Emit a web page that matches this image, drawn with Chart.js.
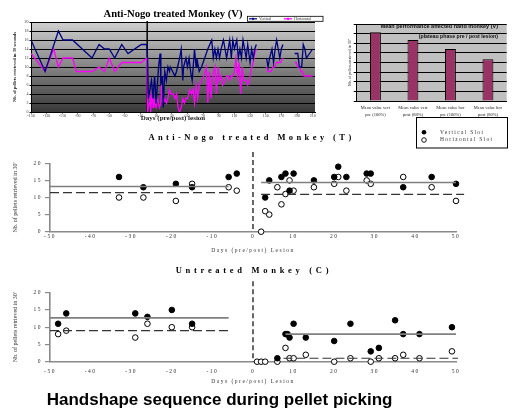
<!DOCTYPE html>
<html><head><meta charset="utf-8">
<script src="https://cdn.jsdelivr.net/npm/chart.js@4.4.1/dist/chart.umd.min.js"></script>
<style>
html,body{margin:0;padding:0;background:#fff;width:516px;height:410px;overflow:hidden;position:relative}
canvas{position:absolute}
.t{position:absolute;white-space:nowrap;font-family:"Liberation Serif","Times New Roman",serif;font-weight:bold;color:#000;text-align:center}
</style></head><body>
<canvas id="c1" width="330" height="125" style="left:0;top:0"></canvas>
<canvas id="c2" width="186" height="125" style="left:330px;top:0"></canvas>
<canvas id="c3" width="516" height="145" style="left:0;top:115px"></canvas>
<canvas id="c4" width="516" height="132" style="left:0;top:258px"></canvas>
<div class="t" style="left:0;top:7px;width:346px;font-size:10.6px;line-height:14px">Anti-Nogo treated Monkey (V)</div>
<div class="t" style="left:0;top:131px;width:503px;font-size:8.5px;line-height:13px;letter-spacing:3.4px">Anti-Nogo treated Monkey (T)</div>
<div class="t" style="left:0;top:263.5px;width:508px;font-size:8.5px;line-height:13px;letter-spacing:3.7px">Untreated Monkey (C)</div>
<div style="position:absolute;left:46.7px;top:390px;font:bold 17px/20px 'Liberation Sans',Arial,sans-serif;color:#000;white-space:nowrap">Handshape sequence during pellet picking</div>
<script>
// ---------- Monkey V (line chart) ----------
const vertDays = [-150,-132,-115,-109,-97,-72,-63,-56,-50,-43,-34,-26,-9,-2,
  -1,0,2,4,6,8,10,13,15,16,18,19,21,23,25,27,28,31,34,36,
  40,42,44,45,48,50,52,54,56,59,61,62,65,68,72,76,81,83,85,87,
  89,91,93,96,98,100,102,104,106,108,110,113,115,117,119,121,125,127,130,132,134,136,138,
  144,
  151,153,155,158,160,162,164,166,168,170,172,
  180,
  187,191,193,196,198,200,202,206,210];
const vertVals = [16,9,18,16,16,12,15,14,14,12,15,13,15,15,
  12,3,5,7,3,8,2,10,13,6,8,1,9,7,10,9,10,9,8,9,
  12,14,7,10,12,10,12,9,7,14,10,12,9,10,12,14,16,12,14,12,
  14,12,14,16,14,12,14,16,12,16,14,16,12,14,12,16,12,15,11,14,12,14,15,
  null,
  12,10,12,14,11,14,16,14,12,14,15,
  null,
  13,13,10,10,15,14,12,13,14];
const horDays = [-150,-132,-121,-115,-109,-97,-92,-72,-63,-56,-50,-43,-34,-9,-2,
  -1,1,2,3,5,6,7,8,10,12,14,16,17,19,21,23,25,27,29,32,
  34,36,38,40,42,44,46,48,50,53,55,57,59,61,63,65,68,71,74,76,
  78,80,82,85,87,89,91,93,95,98,100,102,104,106,108,110,112,114,116,118,120,122,125,127,129,131,134,136,138,
  144,
  151,153,155,157,159,161,164,167,169,172,
  180,
  187,189,191,193,195,197,199,202,206,210];
const horVals = [13,9,14,10,12,12,9,9,10,9,12,9,11,11,12,
  0,2,4,0,5,1,3,2,1,3,1,2,6,2,3,2,3,5,4,4,
  3,4,1,0,1,3,2,3,3,5,4,5,2,6,3,6,7,8,10,2,
  9,3,8,10,4,10,7,8,6,7,8,8,7,8,8,9,12,8,11,4,10,7,7,6,7,9,11,13,14,
  null,
  10,9,9,9,10,10,11,11,11,12,
  null,
  11,11,10,10,9,9,8,8,8,8];
const vTicks = [-150,-130,-110,-90,-70,-50,-30,-10,10,30,50,70,90,110,130,150,170,190,210];
const vLesionDay = -1.5;

// ---------- Monkey V (bar chart) ----------
const barLabels = [['Mean value vert','pre (100%)'],['Mean value vert','post (88%)'],['Mean value hor','pre (100%)'],['Mean value hor','post (80%)']];
const barValues = [14.3, 12.7, 10.8, 8.7];

// ---------- Monkey T ----------
const tVertDays = [-33,-27,-19,-15,-6,-4, 3,4,7,8,9,10,15,20,21,23,28,29,37,44,50];
const tVertVals = [16,13,14,13,16,17, 10,15,16,17,12,17,15,16,19,16,17,17,13,16,14];
const tHorDays  = [-33,-27,-19,-15,-6,-4, 2,3,4,6,7,8,9,10,15,20,21,23,28,29,37,44,50];
const tHorVals  = [10,10,9,14,13,12, 0,6,5,13,8,11,15,12,13,14,16,12,15,14,16,13,9];
const tPreRange = [-50,-6], tPostVRange = [2,50], tPostHRange = [2,52];
const tMeanVert = [13.2, 14.4], tMeanHor = [11.4, 10.9];

// ---------- Monkey C ----------
const cVertDays = [-48,-46,-29,-26,-20,-15, 6,8,8.5,9,10,13,20,24,29,31,35,37,41,49];
const cVertVals = [11,14,14,13,15,11, 1,8,8,7,11,7,6,11,3,4,12,8,8,10];
const cHorDays  = [-48,-46,-29,-26,-20,-15, 1,2,3,6,8,9,10,13,20,24,29,31,35,37,41,49];
const cHorVals  = [8,9,7,11,10,10, 0,0,0,0,4,1,1,2,0,1,0,1,1,2,1,3];
const cPreRange = [-50,-6], cPostVRange = [8,50], cPostHRange = [7.5,50.5];
const cMeanVert = [12.7, 8], cMeanHor = [9, 1];
const lesionTop = 23.3;

const serif = '"Liberation Serif","Times New Roman",serif';
const sans = '"Liberation Sans",Arial,sans-serif';
const pts = (d, v) => d.map((x, i) => ({x: x, y: v[i]}));
const seg = (r, y) => [{x: r[0], y: y}, {x: r[1], y: y}];

// ===== Chart 1 =====
new Chart(document.getElementById('c1'), {
  type: 'line',
  data: {datasets: [
    {label: 'Vertical', data: pts(vertDays, vertVals), borderColor: '#000080', backgroundColor: '#000080', borderWidth: 1.3, pointRadius: 0, tension: 0, spanGaps: false},
    {label: 'Horizontal', data: pts(horDays, horVals), borderColor: '#ff00ff', backgroundColor: '#ff00ff', borderWidth: 1.3, pointRadius: 0, tension: 0, spanGaps: false}
  ]},
  options: {
    responsive: false, animation: false, events: [],
    layout: {padding: {left: 0, right: 15, top: 22, bottom: 0}},
    plugins: {legend: {display: false}, tooltip: {enabled: false}},
    scales: {
      x: {type: 'linear', min: -150, max: 213,
        afterBuildTicks: s => { s.ticks = vTicks.map(v => ({value: v})); },
        afterFit: s => { s.height = 13; },
        grid: {drawOnChartArea: false, tickLength: 1.5, color: '#000'},
        border: {color: '#000', width: 1},
        ticks: {autoSkip: false, maxRotation: 0, padding: 0, color: '#333', font: {size: 4, family: serif}},
        title: {display: true, text: 'Days (pre/post) lesion', color: '#222', font: {size: 7, weight: 'bold', family: serif}, padding: {top: 0, bottom: 2.8}}
      },
      y: {min: 0, max: 20,
        afterFit: s => { s.width = 31; },
        grid: {color: '#000', lineWidth: 1, tickLength: 1.5},
        border: {color: '#000', width: 1},
        ticks: {stepSize: 2, padding: 1, color: '#333', font: {size: 4, family: serif}},
        title: {display: true, text: 'Nb. of pellets retrieved in 30 seconds', color: '#222', font: {size: 4.5, weight: 'bold', family: serif}, padding: {top: 12.3, bottom: 0}}
      }
    }
  },
  plugins: [{
    id: 'vdeco',
    beforeDraw(ch) {
      const a = ch.chartArea, ctx = ch.ctx;
      const g = ctx.createLinearGradient(0, a.top, 0, a.bottom);
      g.addColorStop(0, '#d0d0d0'); g.addColorStop(1, '#383838');
      ctx.save(); ctx.fillStyle = g; ctx.fillRect(a.left, a.top, a.right - a.left, a.bottom - a.top); ctx.restore();
    },
    beforeDatasetsDraw(ch) {
      const a = ch.chartArea, ctx = ch.ctx;
      const x = ch.scales.x.getPixelForValue(vLesionDay);
      ctx.save(); ctx.strokeStyle = '#000'; ctx.lineWidth = 1.5;
      ctx.beginPath(); ctx.moveTo(x, a.top - 1); ctx.lineTo(x, a.bottom); ctx.stroke(); ctx.restore();
    },
    afterDraw(ch) {
      const ctx = ch.ctx;
      ctx.save();
      ctx.fillStyle = '#fff'; ctx.fillRect(247, 16, 76, 5.5);
      ctx.strokeStyle = '#000'; ctx.lineWidth = 0.8; ctx.strokeRect(247.5, 16.3, 75.5, 5);
      const items = [['Vertical', '#000080', 249], ['Horizontal', '#ff00ff', 284]];
      ctx.font = '4px ' + serif; ctx.textBaseline = 'middle';
      items.forEach(it => {
        ctx.strokeStyle = it[1]; ctx.lineWidth = 1.2;
        ctx.beginPath(); ctx.moveTo(it[2], 18.8); ctx.lineTo(it[2] + 8, 18.8); ctx.stroke();
        ctx.fillStyle = it[1]; ctx.fillRect(it[2] + 3, 17.8, 2, 2);
        ctx.fillStyle = '#333'; ctx.fillText(it[0], it[2] + 10, 18.9);
      });
      ctx.restore();
    }
  }]
});

// ===== Chart 2 =====
new Chart(document.getElementById('c2'), {
  type: 'bar',
  data: {labels: barLabels, datasets: [{data: barValues, backgroundColor: '#993366', borderColor: '#000', borderWidth: 1, barPercentage: 0.29, categoryPercentage: 1}]},
  options: {
    responsive: false, animation: false, events: [],
    layout: {padding: {left: 0, right: 9.3, top: 24, bottom: 0}},
    plugins: {legend: {display: false}, tooltip: {enabled: false}},
    scales: {
      x: {afterFit: s => { s.height = 24; },
        grid: {display: false, drawTicks: false},
        border: {color: '#000', width: 1},
        ticks: {autoSkip: false, maxRotation: 0, padding: 3.1, color: '#222', font: {size: 4.5, family: serif, lineHeight: 1.6}}
      },
      y: {min: 0, max: 16,
        afterFit: s => { s.width = 26.7; },
        grid: {color: '#000', lineWidth: 1, tickLength: 3},
        border: {color: '#000', width: 1},
        ticks: {stepSize: 2, display: false},
        title: {display: true, text: "Nb. of pellets retrieved in 30''", color: '#222', font: {size: 4, family: serif}, padding: {top: 17.6, bottom: 0}}
      }
    }
  },
  plugins: [{
    id: 'bdeco',
    beforeDraw(ch) {
      const a = ch.chartArea, ctx = ch.ctx;
      ctx.save(); ctx.fillStyle = '#c0c0c0'; ctx.fillRect(a.left, a.top, a.right - a.left, a.bottom - a.top); ctx.restore();
    },
    afterDraw(ch) {
      const ctx = ch.ctx;
      ctx.save(); ctx.fillStyle = '#111'; ctx.textAlign = 'right'; ctx.textBaseline = 'middle';
      ctx.font = 'bold 5.5px ' + sans; ctx.fillText('Mean performance affected hand monkey (V)', 168, 26.3);
      ctx.font = 'bold 5.2px ' + sans; ctx.fillText('(plateau phase pre / post lesion)', 168, 37);
      ctx.restore();
    }
  }]
});

// ===== Scatter charts T and C =====
function scatterChart(id, padTop, tickPad, titlePadB, vD, vV, hD, hV, preR, postVR, postHR, meanV, meanH, withLegend) {
  const solid = {showLine: true, pointRadius: 0, borderColor: '#7f7f7f', borderWidth: 1.6, clip: false};
  const dashed = {showLine: true, pointRadius: 0, borderColor: '#333', borderWidth: 1.2, borderDash: [9, 4], clip: false};
  new Chart(document.getElementById(id), {
    type: 'scatter',
    data: {datasets: [
      Object.assign({label: 'pre vertical mean', data: seg(preR, meanV[0])}, solid),
      Object.assign({label: 'post vertical mean', data: seg(postVR, meanV[1])}, solid),
      Object.assign({label: 'pre horizontal mean', data: seg(preR, meanH[0])}, dashed),
      Object.assign({label: 'post horizontal mean', data: seg(postHR, meanH[1])}, dashed),
      {label: 'Vertical Slot', data: pts(vD, vV), pointRadius: 2.8, pointBackgroundColor: '#000', pointBorderColor: '#000', pointBorderWidth: 1, clip: false},
      {label: 'Horizontal Slot', data: pts(hD, hV), pointRadius: 2.8, pointBackgroundColor: '#fff', pointBorderColor: '#000', pointBorderWidth: 1, clip: false}
    ]},
    options: {
      responsive: false, animation: false, events: [],
      layout: {padding: {left: 0, right: 60, top: padTop, bottom: 0}},
      plugins: {legend: {display: false}, tooltip: {enabled: false}},
      scales: {
        x: {type: 'linear', min: -50, max: 50,
          afterFit: s => { s.height = 28.3; },
          grid: {drawOnChartArea: false, drawTicks: false},
          border: {color: '#8a8a8a', width: 1.6},
          ticks: {stepSize: 10, autoSkip: false, maxRotation: 0, padding: tickPad, color: '#333', font: {size: 5.5, family: serif}},
          title: {display: true, text: 'Days (pre/post) Lesion', color: '#333', font: {size: 5.5, family: serif}, padding: {top: 0, bottom: titlePadB}}
        },
        y: {min: 0, max: 20,
          afterFit: s => { s.width = 50; },
          grid: {drawOnChartArea: false, tickLength: 5, color: '#8a8a8a', lineWidth: 1.2},
          border: {color: '#8a8a8a', width: 1.6},
          ticks: {stepSize: 5, padding: 3, color: '#333', font: {size: 5.5, family: serif}}
        }
      }
    },
    plugins: [{
      id: 'sdeco',
      beforeDraw(ch) { ch.ctx.letterSpacing = '1.5px'; },
      beforeDatasetsDraw(ch) {
        const ctx = ch.ctx; ctx.letterSpacing = '0px';
        const x = ch.scales.x.getPixelForValue(0);
        const y1 = ch.scales.y.getPixelForValue(lesionTop), y2 = ch.scales.y.getPixelForValue(0);
        ctx.save(); ctx.strokeStyle = '#000'; ctx.lineWidth = 1.2; ctx.setLineDash([5, 3]);
        ctx.beginPath(); ctx.moveTo(x, y1); ctx.lineTo(x, y2); ctx.stroke(); ctx.restore();
      },
      afterDraw(ch) {
        const ctx = ch.ctx, a = ch.chartArea;
        ctx.save(); ctx.letterSpacing = '0px';
        ctx.translate(15, (a.top + a.bottom) / 2); ctx.rotate(-Math.PI / 2);
        ctx.font = '6px ' + serif; ctx.fillStyle = '#333'; ctx.textAlign = 'center'; ctx.textBaseline = 'middle';
        ctx.fillText("Nb. of pellets retrieved in 30'", 0, 0);
        ctx.restore();
        if (withLegend) {
          ctx.save(); ctx.letterSpacing = '0px';
          ctx.fillStyle = '#fff'; ctx.fillRect(416, 2.5, 92, 30.5);
          ctx.strokeStyle = '#000'; ctx.lineWidth = 1; ctx.strokeRect(416.5, 2.5, 91, 30.5);
          ctx.fillStyle = '#000'; ctx.beginPath(); ctx.arc(424, 17.3, 2.3, 0, Math.PI * 2); ctx.fill();
          ctx.fillStyle = '#fff'; ctx.strokeStyle = '#000'; ctx.lineWidth = 0.9;
          ctx.beginPath(); ctx.arc(424, 25, 2.3, 0, Math.PI * 2); ctx.fill(); ctx.stroke();
          ctx.letterSpacing = '1.3px';
          ctx.fillStyle = '#333'; ctx.font = '5.5px ' + serif; ctx.textBaseline = 'middle'; ctx.textAlign = 'left';
          ctx.fillText('Vertical Slot', 440, 17.3);
          ctx.fillText('Horizontal Slot', 440, 25);
          ctx.restore();
        }
      }
    }]
  });
}
scatterChart('c3', 48.3, 1.7, 5.7, tVertDays, tVertVals, tHorDays, tHorVals, tPreRange, tPostVRange, tPostHRange, tMeanVert, tMeanHor, true);
scatterChart('c4', 34.7, 6.7, 5, cVertDays, cVertVals, cHorDays, cHorVals, cPreRange, cPostVRange, cPostHRange, cMeanVert, cMeanHor, false);
</script>
</body></html>
